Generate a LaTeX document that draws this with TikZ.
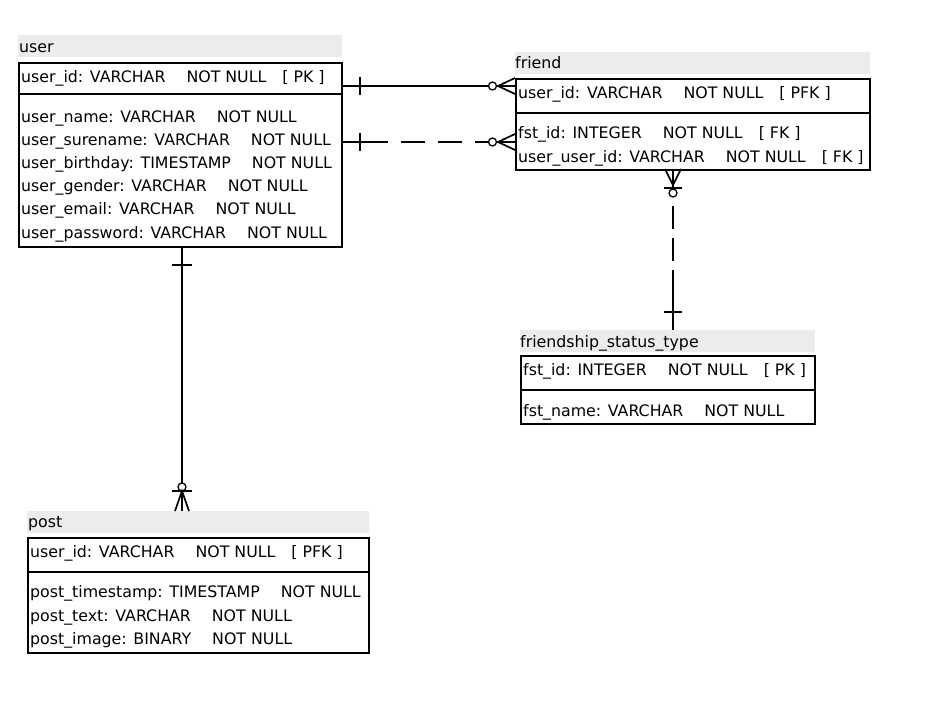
\documentclass[tikz,border=0pt]{standalone}
\usepackage{fontspec}
\setmainfont{DejaVu Sans}
\usetikzlibrary{calc}
\newcommand{\ga}{\hspace{21pt}}
\newcommand{\gb}{\hspace{16pt}}
\newcommand{\kb}[1]{[\hspace{5pt}#1\hspace{5pt}]}
\begin{document}
\begin{tikzpicture}[x=1pt,y=-1pt,
  hdr/.style={fill=hdrgray,draw=none,inner sep=0pt,anchor=north west},
  tbl/.style={draw=black,line width=1.8pt,inner sep=0pt,anchor=north west,fill=white},
  txt/.style={anchor=base west,inner sep=0pt,font=\fontsize{15.8}{18}\selectfont},
  rel/.style={line width=1.7pt},
  reld/.style={line width=1.7pt,dash pattern=on 24pt off 13pt,dash phase=24pt}]
\definecolor{hdrgray}{RGB}{236,236,236}
\useasboundingbox[fill=white] (0,0) rectangle (934,725);

% ---------- user ----------
\node[hdr,minimum width=324pt,minimum height=22pt] (userh) at (18,35) {};
\node[txt] (usert) at (19,52.5) {user};
\node[tbl,minimum width=323pt,minimum height=184pt] (userb) at (18,62) {};
\draw[line width=1.8pt] (18,94) -- (341,94);
\node[txt] (u1) at (21,82) {user\_id: VARCHAR\ga NOT NULL\gb\kb{PK}};
\node[txt] (u2) at (21,122) {user\_name: VARCHAR\ga NOT NULL};
\node[txt] (u3) at (21,145.2) {user\_surename: VARCHAR\ga NOT NULL};
\node[txt] (u4) at (21,168.4) {user\_birthday: TIMESTAMP\ga NOT NULL};
\node[txt] (u5) at (21,191.6) {user\_gender: VARCHAR\ga NOT NULL};
\node[txt] (u6) at (21,214.8) {user\_email: VARCHAR\ga NOT NULL};
\node[txt] (u7) at (21,238) {user\_password: VARCHAR\ga NOT NULL};

% ---------- friend ----------
\node[hdr,minimum width=355pt,minimum height=22pt] (friendh) at (515,52) {};
\node[txt] (friendt) at (515,69) {friend};
\node[tbl,minimum width=354pt,minimum height=91pt] (friendb) at (515,78) {};
\draw[line width=1.8pt] (515,113) -- (869,113);
\node[txt] (f1) at (518,99) {user\_id: VARCHAR\ga NOT NULL\gb\kb{PFK}};
\node[txt] (f2) at (518,138) {fst\_id: INTEGER\ga NOT NULL\gb\kb{FK}};
\node[txt] (f3) at (518,162) {user\_user\_id: VARCHAR\ga NOT NULL\gb\kb{FK}};

% ---------- friendship_status_type ----------
\node[hdr,minimum width=295pt,minimum height=22pt] (fsth) at (520,330) {};
\node[txt] (fstt) at (520,347) {friendship\_status\_type};
\node[tbl,minimum width=294pt,minimum height=68pt] (fstb) at (520,355) {};
\draw[line width=1.8pt] (520,390) -- (814,390);
\node[txt] (s1) at (523,375) {fst\_id: INTEGER\ga NOT NULL\gb\kb{PK}};
\node[txt] (s2) at (523,416) {fst\_name: VARCHAR\ga NOT NULL};

% ---------- post ----------
\node[hdr,minimum width=342pt,minimum height=22pt] (posth) at (27,511) {};
\node[txt] (postt) at (28,527) {post};
\node[tbl,minimum width=341pt,minimum height=115pt] (postb) at (27,537) {};
\draw[line width=1.8pt] (27,572) -- (368,572);
\node[txt] (p1) at (30,557) {user\_id: VARCHAR\ga NOT NULL\gb\kb{PFK}};
\node[txt] (p2) at (30,597) {post\_timestamp: TIMESTAMP\ga NOT NULL};
\node[txt] (p3) at (30,621) {post\_text: VARCHAR\ga NOT NULL};
\node[txt] (p4) at (30,644) {post\_image: BINARY\ga NOT NULL};

% ---------- connector coordinates ----------
\coordinate (c1a) at (341,86);  \coordinate (c1b) at (515,86);
\coordinate (c2a) at (341,142); \coordinate (c2b) at (515,142);
\coordinate (c3a) at (673,169); \coordinate (c3b) at (673,330);
\coordinate (c4a) at (182,246); \coordinate (c4b) at (182,511);

% user -> friend (identifying, solid)
\draw[rel] (c1a) -- ($(c1b)+(-27,0)$);
\draw[rel] ($(c1b)+(-19,0)$) -- (c1b);
\draw[rel] ($(c1a)+(19,-9)$) -- ($(c1a)+(19,9)$);
\draw[line width=1.3pt] ($(c1b)+(-22.5,0)$) circle (4pt);
\draw[rel] ($(c1b)+(-17,0)$) -- ($(c1b)+(0,-8)$);
\draw[rel] ($(c1b)+(-17,0)$) -- ($(c1b)+(0,8)$);

% user -> friend (non-identifying, dashed)
\draw[rel] (c2a) -- ($(c2a)+(47,0)$);
\draw[reld] ($(c2a)+(47,0)$) -- ($(c2b)+(-27,0)$);
\draw[rel] ($(c2b)+(-19,0)$) -- (c2b);
\draw[rel] ($(c2a)+(19,-9)$) -- ($(c2a)+(19,9)$);
\draw[line width=1.3pt] ($(c2b)+(-22.5,0)$) circle (4pt);
\draw[rel] ($(c2b)+(-17,0)$) -- ($(c2b)+(0,-8)$);
\draw[rel] ($(c2b)+(-17,0)$) -- ($(c2b)+(0,8)$);

% friend -> friendship_status_type (dashed)
\draw[rel] (c3a) -- ($(c3a)+(0,19)$);
\draw[rel] ($(c3a)+(-8,0)$) -- ($(c3a)+(0,16)$) -- ($(c3a)+(8,0)$);
\draw[rel] ($(c3a)+(-9,19)$) -- ($(c3a)+(9,19)$);
\draw[line width=1.3pt] ($(c3a)+(0,24)$) circle (4pt);
\draw[rel,dash pattern=on 23pt off 9pt,dash phase=23pt] ($(c3a)+(0,28)$) -- ($(c3a)+(0,101)$);
\draw[rel] ($(c3a)+(0,101)$) -- (c3b);
\draw[rel] ($(c3b)+(-9,-18)$) -- ($(c3b)+(9,-18)$);

% user -> post (solid)
\draw[rel] (c4a) -- ($(c4b)+(0,-28)$);
\draw[rel] ($(c4b)+(0,-20)$) -- (c4b);
\draw[rel] ($(c4a)+(-10,19)$) -- ($(c4a)+(10,19)$);
\draw[line width=1.3pt] ($(c4b)+(0,-24)$) circle (4pt);
\draw[rel] ($(c4b)+(-10,-20)$) -- ($(c4b)+(10,-20)$);
\draw[rel] ($(c4b)+(-7,0)$) -- ($(c4b)+(0,-20)$) -- ($(c4b)+(7,0)$);
\end{tikzpicture}
\end{document}
